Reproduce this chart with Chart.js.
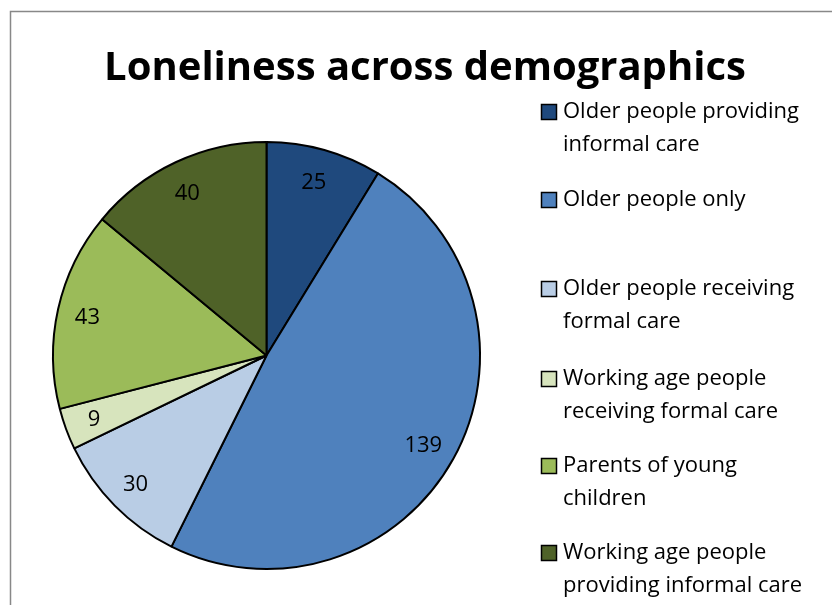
<!DOCTYPE html>
<html>
<head>
<meta charset="utf-8">
<script src="https://cdn.jsdelivr.net/npm/chart.js@4/dist/chart.umd.min.js"></script>
<style>
  html, body { margin: 0; padding: 0; background: #fff; overflow: hidden; }
  #wrap { width: 832px; height: 605px; }
</style>
</head>
<body>
<div id="wrap"><canvas id="chart" width="832" height="605"></canvas></div>
<script>
// Data kategori dan nilai
const categories = [
  ['Older people providing', 'informal care'],
  ['Older people only'],
  ['Older people receiving', 'formal care'],
  ['Working age people', 'receiving formal care'],
  ['Parents of young', 'children'],
  ['Working age people', 'providing informal care']
];
const values = [25, 139, 30, 9, 43, 40];
const sliceColors = ['#1F497D', '#4F81BD', '#B9CDE5', '#D7E4BD', '#9BBB59', '#4F6228'];
const chartTitle = 'Loneliness across demographics';

const FONT = '"Open Sans", "Noto Sans", sans-serif';

// ─── Bingkai, judul, label nilai & legend custom ───────────────
const decor = {
  id: 'decor',
  beforeDraw(chart) {
    const ctx = chart.ctx;
    ctx.save();
    ctx.strokeStyle = '#888888';
    ctx.lineWidth = 1.5;
    ctx.strokeRect(10.5, 11.5, 900, 700);
    ctx.restore();
  },
  afterDraw(chart) {
    const ctx = chart.ctx;
    ctx.save();

    // judul
    ctx.fillStyle = '#000';
    ctx.font = 'bold 40px ' + FONT;
    ctx.textAlign = 'center';
    ctx.textBaseline = 'alphabetic';
    ctx.fillText(chartTitle, 425, 80);

    // label nilai di dalam slice
    const meta = chart.getDatasetMeta(0);
    ctx.font = '22px ' + FONT;
    ctx.textBaseline = 'middle';
    meta.data.forEach((arc, i) => {
      const mid = (arc.startAngle + arc.endAngle) / 2;
      const d = arc.outerRadius * 0.85;
      ctx.fillText(String(values[i]), arc.x + Math.cos(mid) * d - 2, arc.y + Math.sin(mid) * d + 2);
    });

    // legend dengan teks dua baris
    const rowY = [112, 200, 289, 379, 466, 553];
    ctx.textAlign = 'left';
    ctx.font = '22px ' + FONT;
    categories.forEach((lines, i) => {
      const y = rowY[i];
      ctx.fillStyle = sliceColors[i];
      ctx.fillRect(541.5, y - 7.5, 15, 15);
      ctx.strokeStyle = '#000';
      ctx.lineWidth = 1.5;
      ctx.strokeRect(541.5, y - 7.5, 15, 15);
      ctx.fillStyle = '#000';
      lines.forEach((t, j) => ctx.fillText(t, 563, y + j * 33));
    });
    ctx.restore();
  }
};

new Chart(document.getElementById('chart'), {
  type: 'pie',
  data: {
    labels: categories.map(c => c.join(' ')),
    datasets: [{
      data: values,
      backgroundColor: sliceColors,
      borderColor: '#000',
      borderWidth: 2
    }]
  },
  options: {
    responsive: false,
    animation: false,
    layout: { padding: { left: 52, right: 351, top: 141, bottom: 35 } },
    plugins: {
      legend: { display: false },
      title: { display: false },
      tooltip: { enabled: false }
    }
  },
  plugins: [decor]
});
</script>
</body>
</html>
